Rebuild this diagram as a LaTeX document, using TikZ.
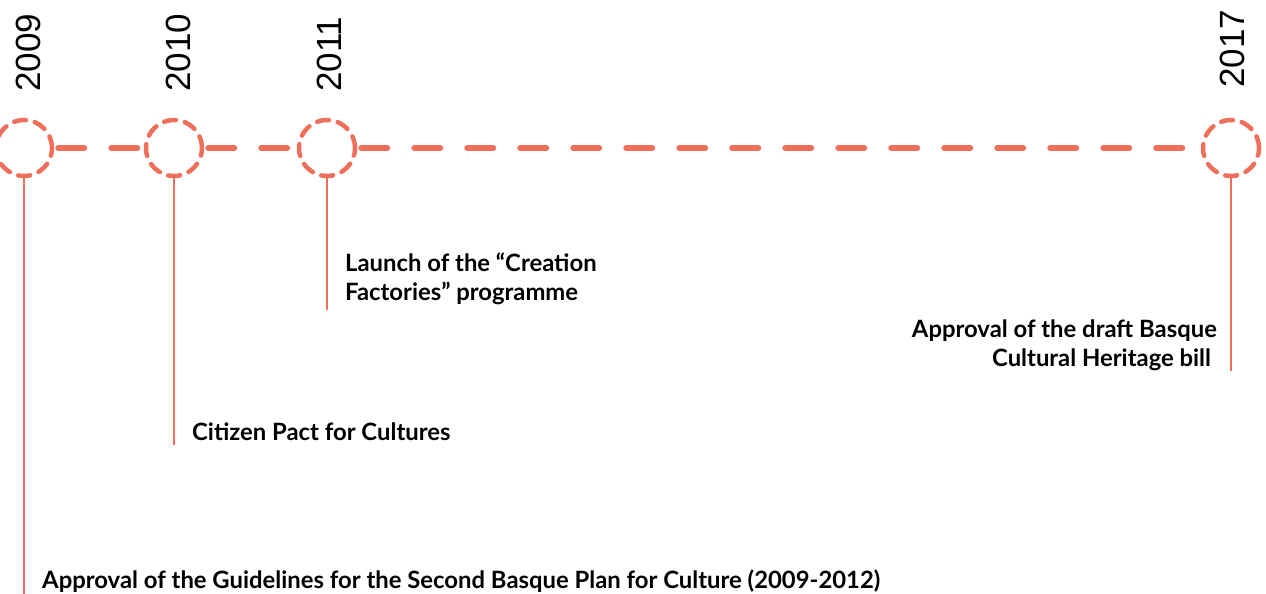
\documentclass[tikz,border=0pt]{standalone}
\usepackage{fontspec}
\setmainfont{Lato}
\newfontfamily\yearfont{Liberation Sans}
\definecolor{salmon}{RGB}{238,111,92}
\begin{document}
\begin{tikzpicture}[x=1pt,y=1pt,
  yearcircle/.style={circle,draw=salmon,line width=4.5pt,minimum size=56pt,inner sep=0pt,
     dash pattern=on 12pt off 9pt,line cap=round},
  axisline/.style={draw=salmon,line width=6pt,line cap=round,dash pattern=on 26pt off 27pt},
  stem/.style={draw=salmon,line width=2.5pt},
  yearlabel/.style={rotate=90,anchor=base west,inner sep=0pt,font=\yearfont\fontsize{35}{40}\selectfont},
  eventlabel/.style={inner sep=0pt,font=\bfseries\fontsize{23.85}{29}\selectfont}
]
\useasboundingbox (0,0) rectangle (1266,-594);
% circles
\node[yearcircle] (c2009) at (24,-148) {};
\node[yearcircle] (c2010) at (174,-148) {};
\node[yearcircle] (c2011) at (327,-148) {};
\node[yearcircle] (c2017) at (1231,-148) {};
% axis
\draw[axisline] ([xshift=4pt]c2009.east) -- (c2010.west);
\draw[axisline] ([xshift=4pt]c2010.east) -- (c2011.west);
\draw[axisline] ([xshift=4pt]c2011.east) -- (c2017.west);
% years
\node[yearlabel] (y2009) at (40,-92) {2009};
\node[yearlabel] (y2010) at (190,-92) {2010};
\node[yearlabel] (y2011) at (341,-92) {2011};
\node[yearlabel] (y2017) at (1244,-88) {2017};
% stems
\coordinate (e2009) at (24,-594);
\coordinate (e2010) at (174,-445);
\coordinate (e2011) at (327,-310);
\coordinate (e2017) at (1231,-371);
\draw[stem] (c2009.south) -- (e2009);
\draw[stem] (c2010.south) -- (e2010);
\draw[stem] (c2011.south) -- (e2011);
\draw[stem] (c2017.south) -- (e2017);
% events
\node[eventlabel,anchor=base west] (t2009) at (42,-588) {Approval of the Guidelines for the Second Basque Plan for Culture (2009-2012)};
\node[eventlabel,anchor=base west] (t2010) at (192,-440) {Citizen Pact for Cultures};
\node[eventlabel,anchor=north west,align=left] (t2011) at (345,-253) {Launch of the “Creation\\Factories” programme};
\node[eventlabel,anchor=north east,align=right] (t2017) at (1217,-320) {Approval of the draft Basque\\Cultural Heritage bill\hphantom{ }};
\end{tikzpicture}
\end{document}
